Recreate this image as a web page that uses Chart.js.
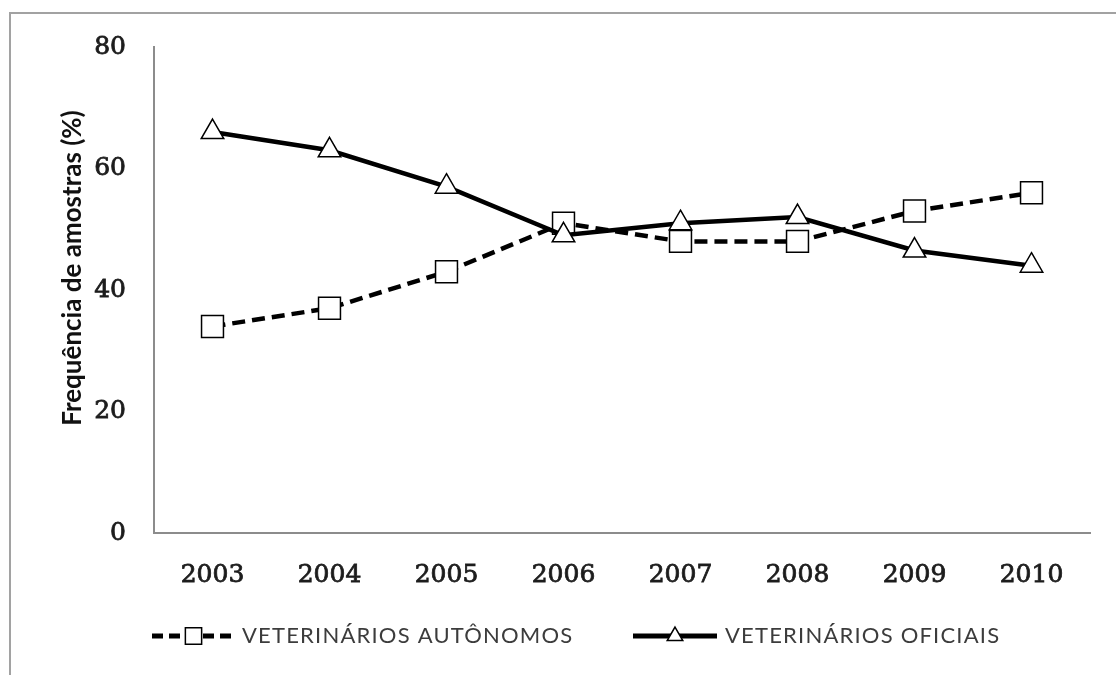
<!DOCTYPE html>
<html>
<head>
<meta charset="utf-8">
<script src="https://cdn.jsdelivr.net/npm/chart.js@4/dist/chart.umd.min.js"></script>
<style>
  html, body { margin: 0; padding: 0; background: #fff; }
  #wrap { position: relative; width: 1116px; height: 675px; overflow: hidden; }
  #frame { position: absolute; left: 9px; top: 12px; width: 1200px; height: 800px;
           border-top: 2px solid #a2a2a2; border-left: 2px solid #a2a2a2; }
  #c { position: absolute; left: 0; top: 0; }
</style>
</head>
<body>
<div id="wrap">
  <div id="frame"></div>
  <canvas id="c" width="1116" height="675"></canvas>
</div>
<script>
// Years on the horizontal axis
const years = ['2003', '2004', '2005', '2006', '2007', '2008', '2009', '2010'];
// Share of samples (%) by type of veterinarian
const autonomos = [34, 37, 43, 51, 48, 48, 53, 56];
const oficiais = [66, 63, 57, 49, 51, 52, 46.5, 44];
// Series names and axis labels
const labelAutonomos = 'VETERINÁRIOS AUTÔNOMOS';
const labelOficiais = 'VETERINÁRIOS OFICIAIS';
const yTitle = 'Frequência de amostras (%)';
const yTicks = [0, 20, 40, 60, 80];

const tickFont = { family: 'DejaVu Serif', size: 25 };
const tickColor = '#1c1c1c';
const axisColor = '#8c8c8c';

// Axis title drawn sideways at the left, plus a bottom legend whose
// samples repeat each series' line and marker.
const decorations = {
  id: 'decorations',
  afterDraw(chart) {
    const ctx = chart.ctx;

    ctx.save();
    ctx.translate(73, 268);
    ctx.rotate(-Math.PI / 2);
    ctx.font = 'bold 26px Lato';
    ctx.fillStyle = '#111';
    ctx.textAlign = 'center';
    ctx.textBaseline = 'middle';
    ctx.fillText(yTitle, 0, 0);
    ctx.restore();

    const y = 636;
    const entries = [
      { ds: chart.data.datasets[0], x0: 152, x1: 235, label: labelAutonomos, tx: 242, r: 11.5 },
      { ds: chart.data.datasets[1], x0: 633, x1: 717, label: labelOficiais, tx: 725, r: 9 }
    ];
    entries.forEach(e => {
      const cx = (e.x0 + e.x1) / 2;
      ctx.save();
      ctx.strokeStyle = '#000';
      ctx.lineWidth = 5;
      ctx.setLineDash(e.ds.borderDash && e.ds.borderDash.length ? [11, 6] : []);
      ctx.beginPath();
      ctx.moveTo(e.x0, y);
      ctx.lineTo(e.x1, y);
      ctx.stroke();
      ctx.setLineDash([]);
      ctx.fillStyle = '#fff';
      ctx.lineWidth = 1.5;
      ctx.beginPath();
      if (e.ds.pointStyle === 'rect') {
        const s = e.r * Math.SQRT1_2;
        ctx.rect(cx - s, y - s, 2 * s, 2 * s);
      } else {
        const h = e.r * Math.sin(2 * Math.PI / 3);
        ctx.moveTo(cx, y - e.r);
        ctx.lineTo(cx + h, y + e.r / 2);
        ctx.lineTo(cx - h, y + e.r / 2);
        ctx.closePath();
      }
      ctx.fill();
      ctx.stroke();
      ctx.font = '22px Lato';
      ctx.fillStyle = '#3c3c3c';
      ctx.textBaseline = 'middle';
      ctx.letterSpacing = '1.2px';
      ctx.fillText(e.label, e.tx, y);
      ctx.restore();
    });
  }
};

new Chart(document.getElementById('c'), {
  type: 'line',
  data: {
    labels: years,
    datasets: [
      {
        label: labelAutonomos,
        data: autonomos,
        order: 2,
        borderColor: '#000',
        borderWidth: 4.5,
        borderDash: [13, 7],
        tension: 0,
        pointStyle: 'rect',
        pointRadius: 15.5,
        pointHoverRadius: 15.5,
        pointBackgroundColor: '#fff',
        pointBorderColor: '#000',
        pointBorderWidth: 1.5
      },
      {
        label: labelOficiais,
        data: oficiais,
        order: 1,
        borderColor: '#000',
        borderWidth: 4.5,
        tension: 0,
        pointStyle: 'triangle',
        pointRadius: 13,
        pointHoverRadius: 13,
        pointBackgroundColor: '#fff',
        pointBorderColor: '#000',
        pointBorderWidth: 1.5
      }
    ]
  },
  options: {
    responsive: false,
    animation: false,
    events: [],
    layout: { padding: { top: 47, right: 26, bottom: 82, left: 0 } },
    plugins: { legend: { display: false }, tooltip: { enabled: false } },
    scales: {
      x: {
        offset: true,
        grid: { display: false, drawTicks: false },
        border: { display: true, color: axisColor, width: 2 },
        ticks: { font: tickFont, color: tickColor, textStrokeColor: tickColor, textStrokeWidth: 0.8,
                 padding: 27, maxRotation: 0, autoSkip: false },
        afterFit(scale) { scale.height = 60; }
      },
      y: {
        min: 0,
        max: 80,
        grid: { display: false, drawTicks: false },
        border: { display: true, color: axisColor, width: 2 },
        afterBuildTicks(scale) { scale.ticks = yTicks.map(v => ({ value: v })); },
        ticks: { font: tickFont, color: tickColor, textStrokeColor: tickColor, textStrokeWidth: 0.8,
                 padding: 28 },
        afterFit(scale) { scale.width = 154; }
      }
    }
  },
  plugins: [decorations]
});
</script>
</body>
</html>
